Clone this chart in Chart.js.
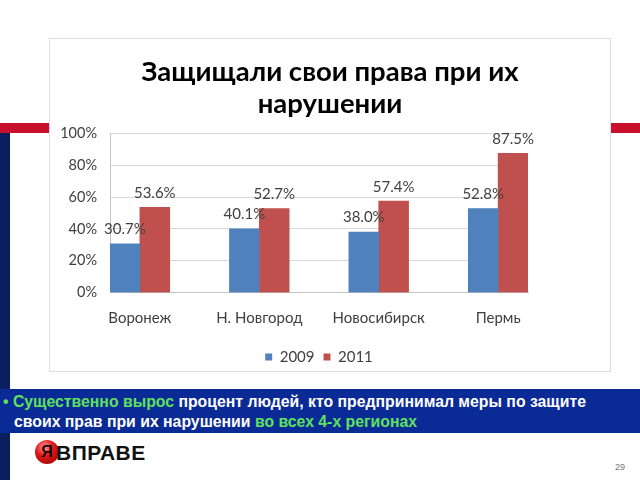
<!DOCTYPE html>
<html><head><meta charset="utf-8">
<script src="https://cdn.jsdelivr.net/npm/chart.js@4.4.1/dist/chart.umd.min.js"></script>
<style>
html,body{margin:0;padding:0;background:#fff;width:640px;height:480px;overflow:hidden;position:relative;font-family:'Liberation Sans',Arial,sans-serif;}
.abs{position:absolute}
#redL{left:0;top:123px;width:49px;height:10px;background:#c8102e}
#redR{left:611px;top:123px;width:29px;height:10px;background:#c8102e}
#navy{left:0;top:133px;width:10px;height:347px;background:#0b1f5e}
#box{left:49px;top:38px;width:560px;height:332px;border:1px solid #dedede;background:#fff}
#wrap{left:49px;top:38px;width:562px;height:345px}
#banner{left:0;top:389px;width:640px;height:44px;background:#0a2a96;color:#fff;font-weight:bold;font-size:15.8px;line-height:20px;white-space:nowrap}
.g{color:#5fe05f}
#l1{left:3px;top:3px}
#l2{left:14px;top:23px}
#logoBall{left:35px;top:440px;width:24px;height:24px;border-radius:50%;background:radial-gradient(circle at 40% 30%,#ff9a9a 0%,#e01818 40%,#8a0000 100%);color:#1a0000;font-weight:bold;font-size:16px;line-height:24px;text-align:center}
#logoTxt{left:56px;top:441px;font-weight:bold;font-size:21px;line-height:24px;color:#111;letter-spacing:0.5px}
#page{left:615px;top:462px;font-size:9px;color:#777}
</style>
</head><body>
<div id="redL" class="abs"></div>
<div id="redR" class="abs"></div>
<div id="navy" class="abs"></div>
<div id="box" class="abs"></div>
<div id="wrap" class="abs"><canvas id="c"></canvas></div>
<div id="banner" class="abs">
  <div id="l1" class="abs"><span class="g">• Существенно вырос</span> процент людей, кто предпринимал меры по защите</div>
  <div id="l2" class="abs">своих прав при их нарушении <span class="g">во всех 4-х регионах</span></div>
</div>
<div id="logoBall" class="abs">Я</div>
<div id="logoTxt" class="abs">ВПРАВЕ</div>
<div id="page" class="abs">29</div>
<script>
const regions = ['Воронеж', 'Н. Новгород', 'Новосибирск', 'Пермь'];
const seriesNames = ['2009', '2011'];
const values2009 = [30.7, 40.1, 38.0, 52.8];
const values2011 = [53.6, 52.7, 57.4, 87.5];
const yTicks = [0, 20, 40, 60, 80, 100];
const titleLines = ['Защищали свои права при их', 'нарушении'];
const seriesColors = ['#4F81BD', '#C0504D'];

// each region is followed by an empty spacer slot (as in the original layout)
const slotLabels = [];
regions.forEach((r, i) => { slotLabels.push(r); if (i < regions.length - 1) slotLabels.push(''); });
const toSlots = arr => {
  const out = [];
  arr.forEach((v, i) => { out.push(v); if (i < arr.length - 1) out.push(null); });
  return out;
};

const FONT = "Lato, 'Open Sans', sans-serif";
Chart.defaults.font.family = FONT;

const valueLabels = {
  id: 'valueLabels',
  afterDatasetsDraw(chart) {
    const ctx = chart.ctx;
    ctx.save();
    ctx.font = '15px ' + FONT;
    ctx.fillStyle = '#404040';
    ctx.textAlign = 'center';
    ctx.textBaseline = 'middle';
    chart.data.datasets.forEach((ds, di) => {
      const meta = chart.getDatasetMeta(di);
      meta.data.forEach((el, i) => {
        const v = ds.data[i];
        if (v === null || v === undefined) return;
        ctx.fillText(v.toFixed(1) + '%', el.x, el.y - 14.5);
      });
    });
    ctx.restore();
  }
};

new Chart(document.getElementById('c'), {
  type: 'bar',
  data: {
    labels: slotLabels,
    datasets: [
      { label: seriesNames[0], data: toSlots(values2009), backgroundColor: seriesColors[0], borderWidth: 0 },
      { label: seriesNames[1], data: toSlots(values2011), backgroundColor: seriesColors[1], borderWidth: 0 }
    ]
  },
  options: {
    responsive: true,
    maintainAspectRatio: false,
    animation: false,
    datasets: { bar: { categoryPercentage: 1, barPercentage: 1 } },
    layout: { padding: { left: 0, right: 0, top: 0, bottom: 8.5 } },
    scales: {
      x: {
        type: 'category',
        grid: { display: false, drawTicks: false },
        border: { display: true, color: '#c4c4c4' },
        ticks: { autoSkip: false, maxRotation: 0, minRotation: 0, padding: 16, color: '#404040', font: { size: 15 } },
        afterFit: s => { s.height = 47.8; }
      },
      y: {
        position: 'left',
        min: 0, max: 100,
        afterBuildTicks: s => { s.ticks = yTicks.map(v => ({ value: v })); },
        grid: { color: '#d9d9d9', drawTicks: false },
        border: { display: true, color: '#c4c4c4' },
        ticks: { padding: 13, color: '#404040', font: { size: 14.5 }, callback: v => v + '%' },
        afterFit: s => { s.width = 61; }
      },
      yR: {
        type: 'linear',
        position: 'right',
        display: true,
        grid: { display: false, drawTicks: false },
        border: { display: false },
        ticks: { display: false },
        afterFit: s => { s.width = 83; }
      }
    },
    plugins: {
      title: {
        display: true,
        text: titleLines,
        color: '#000',
        font: { size: 27.5, weight: 'bold', lineHeight: 32 / 27.5 },
        padding: { top: 18, bottom: 13.3 }
      },
      legend: {
        display: true,
        position: 'bottom',
        fullSize: false,
        labels: { boxWidth: 7, boxHeight: 7, padding: 9, color: '#404040', font: { size: 15 } }
      },
      tooltip: { enabled: false }
    }
  },
  plugins: [valueLabels]
});
</script>
</body></html>
